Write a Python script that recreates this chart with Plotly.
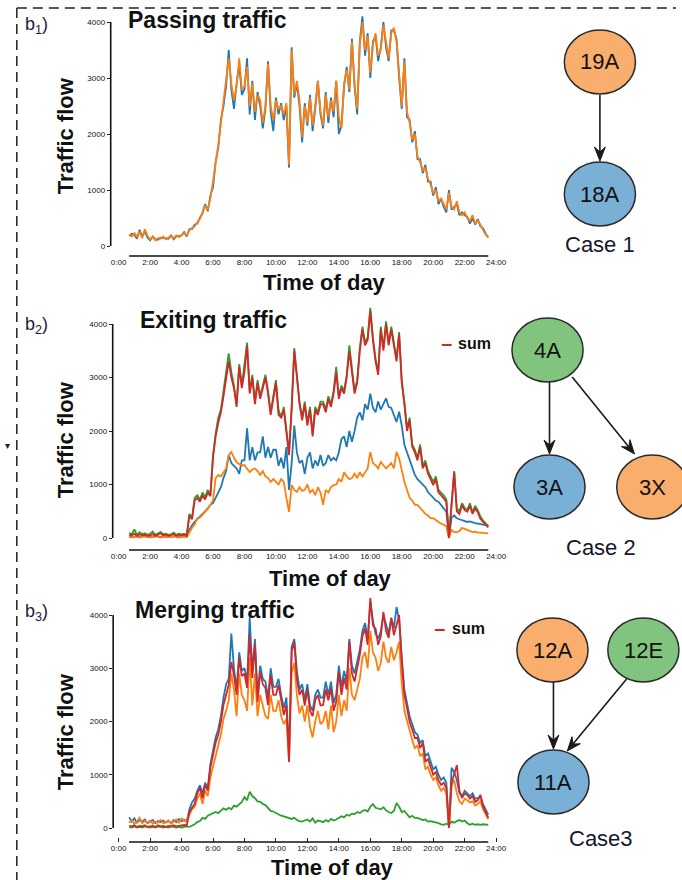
import math
import plotly.graph_objects as go

# ---------------- data (10-minute samples, 0:40 .. 23:30) ----------------
time_min = list(range(40, 1420, 10))          # minutes after midnight
hours = [m / 60 for m in time_min]

tick_hours = [0, 2, 4, 6, 8, 10, 12, 14, 16, 18, 20, 22, 24]
tick_text = ["0:00", "2:00", "4:00", "6:00", "8:00", "10:00", "12:00",
             "14:00", "16:00", "18:00", "20:00", "22:00", "24:00"]
y_ticks = [0, 1000, 2000, 3000, 4000]

# b1) Passing traffic
p1_18A = [180, 220,
          200, 130, 290, 170, 260, 150,
          100, 170, 120, 110, 150, 140,
          140, 130, 190, 120, 170, 180,
          190, 250, 170, 300, 300, 380,
          400, 500, 580, 750, 620, 900,
          1050, 1500, 1750, 2250, 2500, 2850,
          3500, 2800, 2450, 2900, 3250, 2700,
          2800, 3350, 2350, 2950, 2250, 2750,
          2500, 2100, 2450, 3300, 2400, 2050,
          2650, 2350, 2550, 2250, 2500, 1400,
          3550, 2650, 2900, 2500, 1850, 2550,
          2150, 2700, 2050, 2450, 2950, 2350,
          2100, 2750, 2200, 2650, 2300, 2950,
          2000, 2150, 2850, 3200, 2750, 3700,
          2850, 2350, 3650, 4100, 3400, 3800,
          3000, 3650, 3750, 3300, 3550, 4000,
          3550, 3300, 3850, 3850, 3700, 3000,
          2450, 3350, 2300, 2250, 1850, 2050,
          1550, 1550, 1300, 1450, 1150, 1150,
          900, 1050, 750, 850, 700, 600,
          1000, 650, 700, 750, 550, 600,
          550, 520, 400, 500, 380, 480,
          350, 320, 220, 150]
p1_19A = [200, 170,
          230, 160, 260, 140, 300, 180,
          120, 160, 100, 140, 130, 170,
          120, 150, 180, 140, 190, 160,
          200, 230, 190, 280, 320, 350,
          420, 480, 600, 720, 640, 850,
          1150, 1450, 1800, 2200, 2600, 2900,
          3350, 2900, 2600, 2850, 3350, 2800,
          2850, 3200, 2500, 2900, 2400, 2700,
          2600, 2200, 2500, 3250, 2500, 2250,
          2600, 2450, 2500, 2350, 2550, 1450,
          3500, 2700, 2950, 2600, 1950, 2500,
          2200, 2650, 2150, 2500, 2950, 2400,
          2150, 2700, 2300, 2600, 2400, 2950,
          2300, 2100, 2900, 3150, 2800, 3650,
          2900, 2450, 3600, 4000, 3500, 3750,
          3100, 3600, 3800, 3400, 3500, 3950,
          3600, 3350, 3800, 3900, 3650, 3000,
          2500, 3300, 2400, 2200, 1900, 2000,
          1600, 1500, 1350, 1400, 1200, 1100,
          950, 1000, 800, 850, 750, 650,
          950, 700, 650, 800, 600, 550,
          600, 500, 450, 550, 400, 450,
          380, 300, 200, 160]

# b2) Exiting traffic
p2_4A = [90, 70,
         160, 60, 110, 70, 90, 60,
         80, 120, 60, 90, 110, 70,
         80, 60, 70, 100, 60, 80,
         70, 80, 60, 450, 380, 750,
         800, 720, 850, 760, 900, 800,
         1550, 1950, 2250, 2400, 2750, 3100,
         3450, 3100, 2850, 2500, 3250, 2850,
         3200, 3650, 2750, 3050, 2550, 2950,
         2650, 2850, 3050, 2750, 2350, 2650,
         2950, 2400, 2250, 2450, 2050, 1600,
         2450, 3550, 3050, 2550, 2250, 2550,
         2150, 2450, 1950, 2450, 2350, 2550,
         2550, 2400, 2650, 2500, 2750, 3200,
         2650, 2850, 2750, 3050, 3600, 3150,
         2750, 2950, 3550, 3950, 3650, 3750,
         4300, 3750, 3350, 3100, 3950, 3550,
         4050, 3650, 3950, 3650, 3350, 3850,
         2950, 2550, 2050, 2250, 1750, 1650,
         1500, 1750, 1350, 1450, 1250, 1150,
         1050, 1150, 900, 850, 800, 720,
         30, 650, 1250, 550, 500, 650,
         560, 530, 650, 480, 600, 520,
         400, 330, 270, 220]
p2_3A = [20, 30,
         20, 30, 20, 40, 30, 20,
         30, 20, 40, 30, 20, 30,
         20, 30, 20, 30, 40, 20,
         30, 20, 30, 150, 240, 300,
         350, 400, 430, 480, 550, 620,
         650, 750, 860, 950, 1120, 1250,
         1550, 1400, 1350, 1300, 1200, 1450,
         1450, 2050, 1450, 1700, 1450, 1600,
         1600, 1900, 1500, 1700, 1500, 1650,
         1650, 1350, 1500, 1300, 1700, 900,
         1400, 2100, 1600, 1400, 1450, 1200,
         1500, 1600, 1300, 1450, 1350, 1550,
         1350, 1400, 1550, 1450, 1500, 1450,
         1600, 1850, 1900, 1700, 2000, 1800,
         2000, 2250, 2350, 2200, 2500, 2400,
         2700, 2430, 2350, 2550, 2400, 2500,
         2610, 2450, 2430, 2300, 2170, 2360,
         2100, 1740, 1600, 1420, 1300, 1180,
         1100, 1050, 1000, 950, 860, 800,
         750, 700, 680, 620, 560, 490,
         0, 380, 420, 370, 350, 330,
         320, 300, 310, 290, 280, 270,
         260, 240, 230, 230]
p2_3X = [20, 10,
         20, 30, 10, 20, 30, 20,
         10, 20, 30, 20, 10, 20,
         20, 10, 20, 30, 20, 10,
         20, 30, 20, 120, 190, 250,
         370, 380, 430, 480, 550, 620,
         700, 1120, 1180, 1150, 1230, 1300,
         1550, 1610, 1500, 1420, 1380, 1360,
         1360, 1300, 1230, 1280, 1300, 1250,
         1180, 1250, 1150, 1120, 1050, 1100,
         1050, 1000, 1100, 1050, 750, 490,
         990, 900, 860, 950, 880, 900,
         1000, 850, 900, 800, 950, 850,
         620, 900, 850, 950, 990, 1000,
         1100, 1050, 1230, 1150, 1100, 1120,
         1200, 1120, 1230, 1150, 1230, 1300,
         1610, 1400, 1360, 1300, 1420, 1350,
         1300, 1350, 1400, 1300, 1610, 1490,
         1250, 1050, 900, 750, 700, 620,
         620, 560, 490, 450, 420, 370,
         370, 330, 300, 270, 240, 220,
         0, 150, 110, 110, 130, 190,
         170, 150, 130, 110, 120, 100,
         100, 95, 90, 85]
p2_sum = [60, 50,
          80, 40, 70, 50, 60, 40,
          50, 70, 40, 60, 90, 50,
          60, 40, 50, 70, 40, 60,
          50, 60, 40, 420, 350, 700,
          750, 680, 800, 720, 850, 780,
          1500, 1900, 2150, 2350, 2650, 3000,
          3300, 3000, 2800, 2450, 3200, 2800,
          3100, 3600, 2700, 3000, 2500, 2900,
          2600, 2800, 3000, 2700, 2300, 2600,
          2900, 2300, 2250, 2400, 2000, 1550,
          2400, 3500, 3000, 2500, 2200, 2500,
          2100, 2400, 1900, 2400, 2300, 2500,
          2500, 2350, 2600, 2450, 2700, 3100,
          2600, 2800, 2700, 3000, 3500, 3100,
          2700, 2900, 3500, 3900, 3600, 3700,
          4250, 3700, 3300, 3050, 3900, 3500,
          4000, 3600, 3900, 3600, 3300, 3800,
          2900, 2500, 2000, 2200, 1700, 1600,
          1450, 1700, 1300, 1400, 1200, 1100,
          990, 1100, 850, 800, 750, 680,
          0, 600, 1230, 500, 450, 620,
          520, 490, 600, 450, 550, 480,
          360, 300, 250, 200]

# b3) Merging traffic
p3_11A = [200, 120,
          180, 100, 150, 120, 160, 90,
          120, 150, 90, 130, 110, 140,
          100, 130, 90, 150, 110, 170,
          130, 160, 120, 350, 480, 550,
          700, 800, 650, 850, 750, 1200,
          1450, 1700, 1850, 2100, 2450, 2700,
          2800, 3650, 3000, 2600, 3300, 2950,
          3000, 2750, 3950, 2950, 3550, 2500,
          3050, 2800, 2750, 2450, 3000, 2650,
          2650, 2800, 2500, 2250, 2450, 1400,
          3400, 3550, 2950, 2600, 2700, 2400,
          2700, 2300, 2200, 2500, 2600, 2450,
          2450, 2750, 2500, 2750, 2350, 2500,
          3050, 2650, 2950, 2750, 3550, 3050,
          2900, 3150, 3350, 3700, 3850, 3550,
          4250, 3900, 3650, 3550, 3700, 4000,
          3800, 3650, 3950, 3750, 4150, 3900,
          3200, 2600, 2350, 2100, 1950, 1800,
          1750, 1600, 1650, 1350, 1400, 1250,
          1100, 1150, 1000, 900, 950, 850,
          50, 1130, 1050, 900, 650, 600,
          700, 650, 600, 650, 550, 560,
          600, 450, 350, 250]
p3_12A = [100, 150,
          80, 120, 190, 90, 130, 100,
          140, 80, 120, 100, 150, 90,
          110, 140, 80, 120, 160, 100,
          180, 130, 150, 250, 350, 400,
          550, 650, 450, 700, 600, 950,
          1150, 1400, 1550, 1750, 2050, 2200,
          2400, 2900, 2600, 2100, 2900, 2500,
          2400, 2200, 3200, 2300, 2900, 2100,
          2500, 2300, 2100, 2050, 2500, 2200,
          2200, 2400, 2100, 1950, 2050, 1250,
          2900, 3100, 2500, 2150, 2300, 2000,
          2300, 1900, 1700, 2000, 2200, 1950,
          2000, 2200, 1850, 2300, 1800, 2000,
          2500, 2100, 2400, 2200, 3000, 2500,
          2400, 2600, 2800, 3200, 3300, 3000,
          3700, 3300, 3200, 2950, 3100, 3500,
          3200, 3100, 3400, 3150, 3300, 3500,
          2700, 2200, 2000, 1800, 1650, 1500,
          1550, 1350, 1400, 1100, 1150, 1000,
          900, 950, 800, 700, 750, 650,
          0, 800, 900, 650, 500, 450,
          550, 520, 480, 500, 420, 450,
          500, 350, 260, 170]
p3_12E = [20, 10,
          30, 10, 20, 10, 30, 20,
          10, 20, 10, 30, 20, 10,
          20, 10, 30, 20, 10, 20,
          10, 20, 30, 20, 40, 70,
          110, 130, 190, 170, 230, 250,
          270, 300, 280, 330, 370, 340,
          380, 350, 420, 400, 450, 490,
          580, 520, 680, 600, 560, 500,
          490, 450, 430, 380, 320, 310,
          280, 250, 230, 220, 200, 190,
          170, 190, 150, 130, 120, 140,
          160, 120, 180, 100, 140, 130,
          110, 150, 120, 170, 140, 160,
          190, 220, 200, 250, 230, 270,
          260, 300, 280, 320, 340, 310,
          400, 450, 380, 370, 350, 390,
          330, 300, 280, 320, 470, 400,
          300, 320, 260, 200, 230, 190,
          190, 170, 150, 160, 120, 130,
          120, 100, 90, 70, 60, 80,
          60, 120, 100, 130, 150, 120,
          140, 90, 60, 80, 60, 70,
          60, 70, 60, 60]
p3_sum = [40, 30,
          50, 20, 40, 30, 50, 20,
          30, 40, 20, 50, 30, 40,
          20, 40, 30, 50, 30, 40,
          40, 60, 50, 300, 380, 450,
          650, 750, 560, 810, 700, 1130,
          1370, 1600, 1750, 1990, 2310, 2500,
          2690, 3120, 2870, 2500, 3190, 2850,
          2900, 2630, 3620, 2820, 3440, 2370,
          2930, 2700, 2630, 2310, 2870, 2500,
          2500, 2690, 2400, 2120, 2310, 1240,
          3310, 3500, 2800, 2500, 2600, 2300,
          2600, 2200, 2100, 2400, 2500, 2300,
          2310, 2600, 2400, 2630, 2200, 2370,
          2930, 2500, 2820, 2600, 3500, 2900,
          2750, 3000, 3250, 3600, 3750, 3440,
          4320, 3800, 3750, 3440, 3600, 4060,
          3700, 3570, 3940, 3620, 3800, 4000,
          3120, 2500, 2250, 1990, 1850, 1690,
          1690, 1500, 1600, 1240, 1300, 1150,
          1000, 1050, 900, 810, 850, 750,
          0, 850, 1000, 1180, 700, 560,
          650, 620, 550, 600, 490, 520,
          620, 400, 300, 190]

for name, s in [("p1_18A", p1_18A), ("p1_19A", p1_19A), ("p2_4A", p2_4A),
                ("p2_3A", p2_3A), ("p2_3X", p2_3X), ("p2_sum", p2_sum),
                ("p3_11A", p3_11A), ("p3_12A", p3_12A), ("p3_12E", p3_12E),
                ("p3_sum", p3_sum)]:
    if len(s) != len(hours):
        raise ValueError(f"{name}: {len(s)} values, expected {len(hours)}")

# ---------------- styling / layout ----------------
W, H = 682, 880
FONT = "Liberation Sans, Arial, sans-serif"
BLUE, ORANGE, GREEN, RED = "#1f77b4", "#ff7f0e", "#2ca02c", "#d62728"
N_BLUE, N_ORANGE, N_GREEN = "#7aafd6", "#f9ae6d", "#80c47e"


def X(p):
    return p / W


def Y(p):
    return 1 - p / H


ZERO_PX, PX_PER_H, RIGHT_PX = 118.0, 15.917, 505.0

panels = [
    dict(left=110, y0=246, ppk=56.0, bottom=256, top=5),
    dict(left=112, y0=538, ppk=53.5, bottom=550, top=303),
    dict(left=112.5, y0=828, ppk=53.25, bottom=842, top=592),
]

series = [
    [(p1_18A, BLUE), (p1_19A, ORANGE)],
    [(p2_3A, BLUE), (p2_3X, ORANGE), (p2_4A, GREEN), (p2_sum, RED)],
    [(p3_11A, BLUE), (p3_12A, ORANGE), (p3_12E, GREEN), (p3_sum, RED)],
]

fig = go.Figure()
layout = dict(width=W, height=H, margin=dict(l=0, r=0, t=0, b=0),
              paper_bgcolor="white", plot_bgcolor="white",
              showlegend=False, font=dict(family=FONT, color="#111"))
shapes, annotations = [], []


def text_ann(text, x, y, size, color="#111", xanchor="center", angle=0):
    annotations.append(dict(text=text, x=X(x), y=Y(y), xref="paper",
                            yref="paper", xanchor=xanchor, yanchor="middle",
                            textangle=angle, showarrow=False,
                            font=dict(size=size, color=color, family=FONT)))


for k, (pn, ser) in enumerate(zip(panels, series), start=1):
    sfx = "" if k == 1 else str(k)
    for vals, col in ser:
        fig.add_trace(go.Scatter(x=hours, y=vals, mode="lines",
                                 line=dict(color=col, width=1.8),
                                 xaxis="x" + sfx, yaxis="y" + sfx,
                                 hoverinfo="skip"))
    xr = [(pn["left"] - ZERO_PX) / PX_PER_H, (RIGHT_PX - ZERO_PX) / PX_PER_H]
    yr = [-(pn["bottom"] - pn["y0"]) / pn["ppk"] * 1000,
          (pn["y0"] - pn["top"]) / pn["ppk"] * 1000]
    layout["xaxis" + sfx] = dict(
        domain=[X(pn["left"]), X(RIGHT_PX)], range=xr, anchor="y" + sfx,
        showgrid=False, zeroline=False, showline=False,
        tickvals=tick_hours, ticktext=tick_text,
        ticks="inside" if k == 3 else "", ticklen=4, tickcolor="#222",
        tickfont=dict(size=8, color="#111", family=FONT))
    layout["yaxis" + sfx] = dict(
        domain=[Y(pn["bottom"]), Y(pn["top"])], range=yr, anchor="x" + sfx,
        showgrid=False, zeroline=False, showline=False,
        tickvals=y_ticks, ticks="outside", ticklen=3, tickcolor="#222",
        tickfont=dict(size=8, color="#111", family=FONT))
    shapes.append(dict(type="line", xref="x" + sfx + " domain", yref="y" + sfx,
                       x0=0, x1=0, y0=0, y1=4000,
                       line=dict(color="#111", width=1.6)))
    shapes.append(dict(type="line", xref="x" + sfx, yref="y" + sfx + " domain",
                       x0=hours[0], x1=hours[-1], y0=0, y1=0,
                       line=dict(color="#111", width=1.6)))

# panel texts
for t, x, y in [("Passing traffic", 125, 20), ("Exiting traffic", 138, 320),
                ("Merging traffic", 133, 610)]:
    text_ann(f"<b>{t}</b>", x, y, 23, xanchor="left")
for x, y in [(326, 283), (332, 578), (334, 867)]:
    text_ann("<b>Time of day</b>", x, y, 22)
for y in [136, 440, 732]:
    text_ann("<b>Traffic flow</b>", 64, y, 22, angle=-90)
for i, y in [(1, 25), (2, 325), (3, 612)]:
    text_ann(f"b<sub>{i}</sub>)", 21, y, 18, color="#1b1d3c", xanchor="left")
for (lx0, lx1, ly), (tx, ty) in [((445, 455, 345), (459, 343)),
                                 ((438, 448, 630), (453, 628))]:
    shapes.append(dict(type="line", xref="paper", yref="paper",
                       x0=X(lx0), x1=X(lx1), y0=Y(ly), y1=Y(ly),
                       line=dict(color=RED, width=2)))
    text_ann("<b>sum</b>", tx, ty, 16, xanchor="left")

# ---------------- graph diagrams ----------------
nodes = [("19A", 605, 62, N_ORANGE), ("18A", 605, 194, N_BLUE),
         ("4A", 552, 350, N_GREEN), ("3A", 554, 487, N_BLUE),
         ("3X", 658, 487, N_ORANGE),
         ("12A", 557, 650, N_ORANGE), ("12E", 649, 650, N_GREEN),
         ("11A", 558, 782, N_BLUE)]
RX, RY = 36, 32
for lab, cx, cy, col in nodes:
    shapes.append(dict(type="circle", xref="paper", yref="paper",
                       x0=X(cx - RX), x1=X(cx + RX), y0=Y(cy + RY), y1=Y(cy - RY),
                       fillcolor=col, line=dict(color="#2a2a2a", width=1.5)))
    text_ann(lab, cx, cy, 22)

edges = [((605, 95), (605, 161)),
         ((554, 382), (554, 454)), ((577, 377), (640, 454)),
         ((558, 682), (558, 749)), ((632, 679), (572, 751))]
AL, AW, NOTCH = 14, 5.5, 9
for (tx, ty), (hx, hy) in edges:
    d = math.hypot(hx - tx, hy - ty)
    ux, uy = (hx - tx) / d, (hy - ty) / d
    nx, ny = -uy, ux
    bx, by = hx - ux * AL, hy - uy * AL
    mx, my = hx - ux * NOTCH, hy - uy * NOTCH
    shapes.append(dict(type="line", xref="paper", yref="paper",
                       x0=X(tx), y0=Y(ty), x1=X(mx), y1=Y(my),
                       line=dict(color="#1a1a1a", width=1.6)))
    pts = [(hx, hy), (bx + nx * AW, by + ny * AW), (mx, my),
           (bx - nx * AW, by - ny * AW)]
    path = "M " + " L ".join(f"{X(a):.5f},{Y(b):.5f}" for a, b in pts) + " Z"
    shapes.append(dict(type="path", xref="paper", yref="paper", path=path,
                       fillcolor="#1a1a1a", line=dict(color="#1a1a1a", width=1)))

for t, x, y in [("Case 1", 605, 244), ("Case 2", 606, 547), ("Case3", 606, 838)]:
    text_ann(t, x, y, 22, color="#15172e")

# dashed frame and small mark on the left
for x0, y0, x1, y1 in [(15, 8, 15, 880), (15, 8, 682, 8)]:
    shapes.append(dict(type="line", xref="paper", yref="paper",
                       x0=X(x0), x1=X(x1), y0=Y(y0), y1=Y(y1),
                       line=dict(color="#222", width=1.5, dash="10px,6px")))
text_ann("▾", 6, 445, 10, color="#222")

layout["shapes"] = shapes
layout["annotations"] = annotations
fig.update_layout(**layout)
fig.write_html("out.html")
